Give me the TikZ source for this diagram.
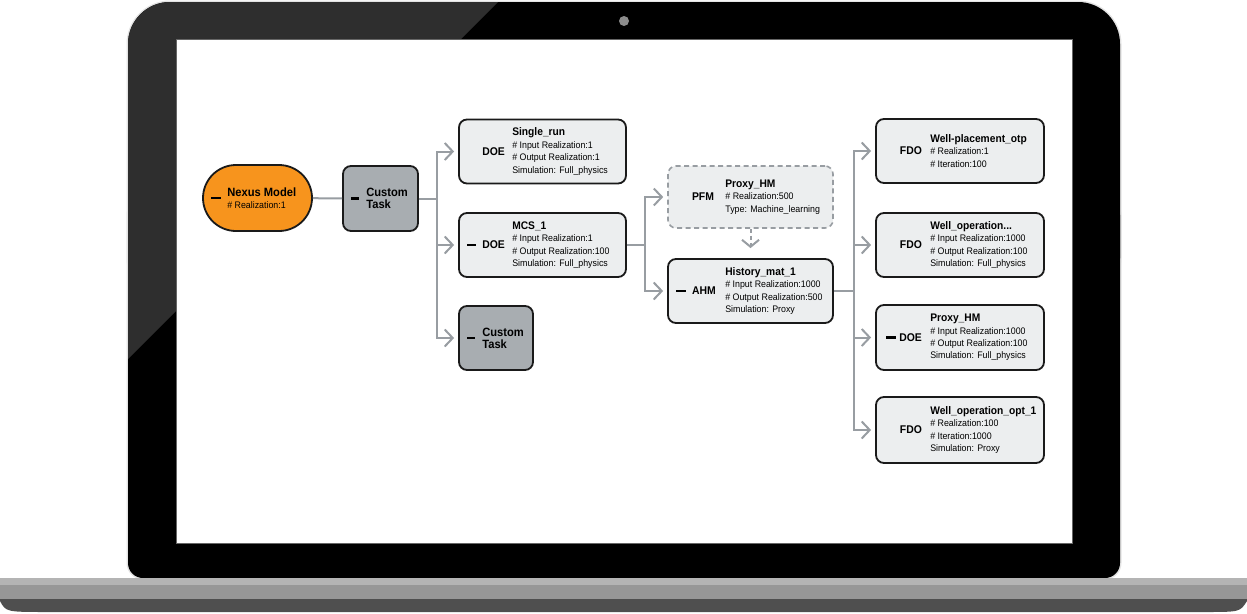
\documentclass[tikz,border=0pt]{standalone}
\usepackage{fontspec}
\setmainfont{Liberation Sans}[FakeStretch=0.93]
\usetikzlibrary{arrows.meta}

\definecolor{nexusorange}{HTML}{F7941D}
\definecolor{customgray}{HTML}{A8ADB1}
\definecolor{boxfill}{HTML}{ECEEEF}
\definecolor{boxline}{HTML}{1A1A1A}
\definecolor{linkgray}{HTML}{989DA2}
\definecolor{bezelgray}{HTML}{2E2E2E}
\definecolor{rimgray}{HTML}{E3E3E3}
\definecolor{baselight}{HTML}{B4B4B4}
\definecolor{basemid}{HTML}{979797}
\definecolor{basedark}{HTML}{4F4F4F}

\newcommand{\tasktitle}[1]{{\bfseries\fontsize{11}{12}\selectfont #1}}
\newcommand{\modelname}[1]{{\bfseries\fontsize{12}{12}\selectfont #1}}

\begin{document}
\begin{tikzpicture}[x=1pt, y=-1pt,
    taskbox/.style={draw=boxline, fill=boxfill, line width=1.8pt, rounded corners=8pt,
      minimum width=167pt, minimum height=64pt, inner sep=0pt},
    custombox/.style={taskbox, fill=customgray, minimum width=75pt, minimum height=65pt},
    modelbox/.style={taskbox, fill=nexusorange, rounded corners=33pt, minimum width=109pt, minimum height=66pt},
    proxybox/.style={taskbox, draw=linkgray, dash pattern=on 5pt off 3.5pt, line width=1.6pt, minimum width=165pt, minimum height=62pt},
    tasktag/.style={anchor=east, inner sep=0pt, font=\bfseries\fontsize{11.2}{12}\selectfont},
    taskinfo/.style={anchor=west, inner sep=0pt, align=left, font=\fontsize{9.5}{12.4}\selectfont},
    customtext/.style={anchor=west, inner sep=0pt, align=left, font=\bfseries\fontsize{12}{12}\selectfont},
    handle/.style={line width=2.8pt, black},
    wire/.style={draw=linkgray, line width=2pt},
    feedarrow/.style={wire, -{Straight Barb[length=8pt, width=17pt]}, shorten >=4pt},
    proxyarrow/.style={wire, dash pattern=on 4pt off 3pt, -{Straight Barb[length=7pt, width=17pt]}, shorten >=10pt},
  ]
\useasboundingbox (0,0) rectangle (1247,613);

% laptop
\draw[rimgray, line width=3pt, rounded corners=42pt] (128,2) rectangle (1120,300);
\draw[rimgray, line width=3pt, rounded corners=15pt] (128,200) rectangle (1120,578);
\fill[black, rounded corners=42pt] (128,2) rectangle (1120,300);
\fill[black, rounded corners=15pt] (128,200) rectangle (1120,578);
\begin{scope}
  \clip[rounded corners=42pt] (128,2) rectangle (1120,578);
  \fill[bezelgray] (100,-10) -- (510,-10) -- (461,39) -- (176,39) -- (176,311) -- (100,387) -- cycle;
\end{scope}
\fill[black!45] (624,21) circle (5);
\draw[fill=white, draw=black!60, line width=0.5pt] (176,39) rectangle (1072,543);
\fill[baselight] (0,578) rectangle (1247,586);
\fill[basemid] (0,585) rectangle (1247,599.5);
\fill[basedark] (0,599) -- (1247,599) -- (1247,601) .. controls (1240,612) .. (1205,612)
  -- (48,612) .. controls (6,612) .. (0,601) -- cycle;

% tasks
\node[modelbox] (nexus) at (257.5,198) {};
\draw[handle] ([xshift=9]nexus.west) -- ++(10,0);
\node[taskinfo] (nexustext) at ([xshift=25]nexus.west) {\modelname{Nexus Model}\\\# Realization:1};

\node[custombox] (custom) at (380.5,198.5) {};
\draw[handle] ([xshift=9]custom.west) -- ++(8,0);
\node[customtext] (customtext) at ([xshift=24]custom.west) {Custom\\Task};

\node[taskbox] (single) at (542.5,151.5) {};
\node[tasktag] (singletag) at ([xshift=47]single.west) {DOE};
\node[taskinfo] (singletext) at ([xshift=54]single.west) {\tasktitle{Single\_run}\\\# Input Realization:1\\\# Output Realization:1\\Simulation: Full\_physics};

\node[taskbox] (mcs) at (542.5,245) {};
\draw[handle] ([xshift=9]mcs.west) -- ++(9,0);
\node[tasktag] (mcstag) at ([xshift=47]mcs.west) {DOE};
\node[taskinfo] (mcstext) at ([xshift=54]mcs.west) {\tasktitle{MCS\_1}\\\# Input Realization:1\\\# Output Realization:100\\Simulation: Full\_physics};

\node[custombox, minimum width=74pt, minimum height=64pt] (custom2) at (496,338) {};
\draw[handle] ([xshift=9]custom2.west) -- ++(8,0);
\node[customtext] (custom2text) at ([xshift=24]custom2.west) {Custom\\Task};

\node[proxybox] (pfm) at (750.5,197) {};
\node[tasktag] (pfmtag) at ([xshift=47]pfm.west) {PFM};
\node[taskinfo] (pfmtext) at ([xshift=58]pfm.west) {\tasktitle{Proxy\_HM}\\\# Realization:500\\Type: Machine\_learning};

\node[taskbox, minimum width=165pt] (ahm) at (750.5,291) {};
\draw[handle] ([xshift=9]ahm.west) -- ++(10,0);
\node[tasktag] (ahmtag) at ([xshift=49]ahm.west) {AHM};
\node[taskinfo] (ahmtext) at ([xshift=58]ahm.west) {\tasktitle{History\_mat\_1}\\\# Input Realization:1000\\\# Output Realization:500\\Simulation: Proxy};

\node[taskbox, minimum width=168pt] (placement) at (960,151) {};
\node[tasktag] (placementtag) at ([xshift=47]placement.west) {FDO};
\node[taskinfo] (placementtext) at ([xshift=55]placement.west) {\tasktitle{Well-placement\_otp}\\\# Realization:1\\\# Iteration:100};

\node[taskbox, minimum width=168pt] (operation) at (960,245) {};
\node[tasktag] (operationtag) at ([xshift=47]operation.west) {FDO};
\node[taskinfo] (operationtext) at ([xshift=55]operation.west) {\tasktitle{Well\_operation...}\\\# Input Realization:1000\\\# Output Realization:100\\Simulation: Full\_physics};

\node[taskbox, minimum width=168pt, minimum height=65pt] (proxy) at (960,337.5) {};
\draw[handle] ([xshift=11]proxy.west) -- ++(10,0);
\node[tasktag] (proxytag) at ([xshift=47]proxy.west) {DOE};
\node[taskinfo] (proxytext) at ([xshift=55]proxy.west) {\tasktitle{Proxy\_HM}\\\# Input Realization:1000\\\# Output Realization:100\\Simulation: Full\_physics};

\node[taskbox, minimum width=168pt, minimum height=66pt] (optimum) at (960,430) {};
\node[tasktag] (optimumtag) at ([xshift=47]optimum.west) {FDO};
\node[taskinfo] (optimumtext) at ([xshift=55]optimum.west) {\tasktitle{Well\_operation\_opt\_1}\\\# Realization:100\\\# Iteration:1000\\Simulation: Proxy};

% links
\draw[wire] (nexus) -- (custom);
\draw[wire] (custom.east) -- ++(18,0) coordinate (fork1);
\draw[feedarrow] (fork1) |- (single);
\draw[feedarrow] (fork1) |- (mcs);
\draw[feedarrow] (fork1) |- (custom2);
\draw[wire] (mcs.east) -- ++(18,0) coordinate (fork2);
\draw[feedarrow] (fork2) |- (pfm);
\draw[feedarrow] (fork2) |- (ahm);
\draw[proxyarrow] (pfm) -- (ahm);
\draw[wire] (ahm.east) -- ++(20,0) coordinate (fork3);
\draw[feedarrow] (fork3) |- (placement);
\draw[feedarrow] (fork3) |- (operation);
\draw[feedarrow] (fork3) |- (proxy);
\draw[feedarrow] (fork3) |- (optimum);
\end{tikzpicture}
\end{document}
